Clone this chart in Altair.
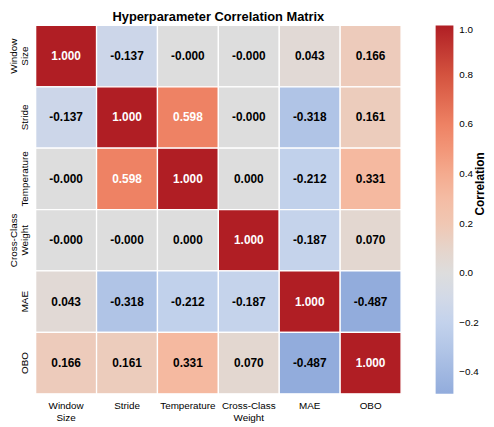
import altair as alt
import pandas as pd

# ---- data ----
labels = ["Window Size", "Stride", "Temperature", "Cross-Class Weight", "MAE", "OBO"]
row_window = [1.000, -0.137, -0.0, -0.0, 0.043, 0.166]
row_stride = [-0.137, 1.000, 0.598, -0.0, -0.318, 0.161]
row_temp = [-0.0, 0.598, 1.000, 0.000, -0.212, 0.331]
row_ccw = [-0.0, -0.0, 0.000, 1.000, -0.187, 0.070]
row_mae = [0.043, -0.318, -0.212, -0.187, 1.000, -0.487]
row_obo = [0.166, 0.161, 0.331, 0.070, -0.487, 1.000]
rows = [row_window, row_stride, row_temp, row_ccw, row_mae, row_obo]

legend_ticks = [-0.4, -0.2, 0.0, 0.2, 0.4, 0.6, 0.8, 1.0]

# colour stops (coolwarm-like, centred on 0, clipped to data range)
color_stops = [-0.487, -0.318, -0.2, -0.1, 0.0, 0.1, 0.2, 0.331, 0.45, 0.598, 0.8, 1.0]
color_values = ["#92acdc", "#b0c4e6", "#c3d2ec", "#d2d9e7", "#dddddd", "#e6d4ca",
                "#f0c7b3", "#f5b9a0", "#f4a082", "#ee8264", "#d4533f", "#b01e24"]

records = []
for i, r in enumerate(labels):
    for j, c in enumerate(labels):
        v = rows[i][j]
        records.append({"row": r, "col": c, "value": v, "text": f"{v:.3f}"})
df = pd.DataFrame(records)

FONT = "Liberation Sans"
W, H = 370, 373

base = alt.Chart(df).encode(
    x=alt.X("col:N", sort=labels, title=None,
            axis=alt.Axis(orient="bottom", labelAngle=0, domain=False, ticks=False,
                          labelExpr="split(datum.label, ' ')", labelFontSize=10,
                          labelLineHeight=12, labelPadding=7, labelFont=FONT,
                          labelColor="black", labelBaseline="top")),
    y=alt.Y("row:N", sort=labels, title=None,
            axis=alt.Axis(labelAngle=270, domain=False, ticks=False,
                          labelExpr="indexof(datum.label, ' ') >= 0 ? split(datum.label, ' ') : ['', datum.label]",
                          labelFontSize=10, labelLineHeight=11, labelPadding=17, labelFont=FONT,
                          labelColor="black", labelAlign="center", labelBaseline="bottom")),
)

rects = base.mark_rect(stroke="white", strokeWidth=1.3).encode(
    color=alt.Color("value:Q",
                    scale=alt.Scale(domain=color_stops, range=color_values, interpolate="rgb"),
                    legend=alt.Legend(title=None, orient="right", direction="vertical",
                                      gradientLength=H, gradientThickness=18,
                                      gradientStrokeWidth=0, values=legend_ticks, format=".1f",
                                      labelFontSize=10, labelFont=FONT, labelColor="black",
                                      labelOffset=6, labelBaseline="middle", offset=35))
)

texts = base.mark_text(font=FONT, fontSize=12, fontWeight="bold").encode(
    text="text:N",
    color=alt.condition("abs(datum.value) > 0.5", alt.value("white"), alt.value("black")),
)

cbar_title = alt.Chart(pd.DataFrame({"t": ["Correlation"]})).mark_text(
    angle=270, font=FONT, fontSize=12, fontWeight="bold", color="black",
    align="center", baseline="middle",
).encode(text="t:N", x=alt.value(W + 80), y=alt.value(H / 2 - 26))

chart = (rects + texts + cbar_title).properties(
    width=W, height=H,
    title=alt.TitleParams("Hyperparameter Correlation Matrix", fontSize=13, fontWeight="bold",
                          font=FONT, anchor="middle", frame="group", offset=1,
                          color="black"),
    padding={"left": 0, "top": 0, "right": 0, "bottom": 0},
).configure_view(stroke=None)

chart.save("out.html", embed_options={"renderer": "svg", "actions": False})
